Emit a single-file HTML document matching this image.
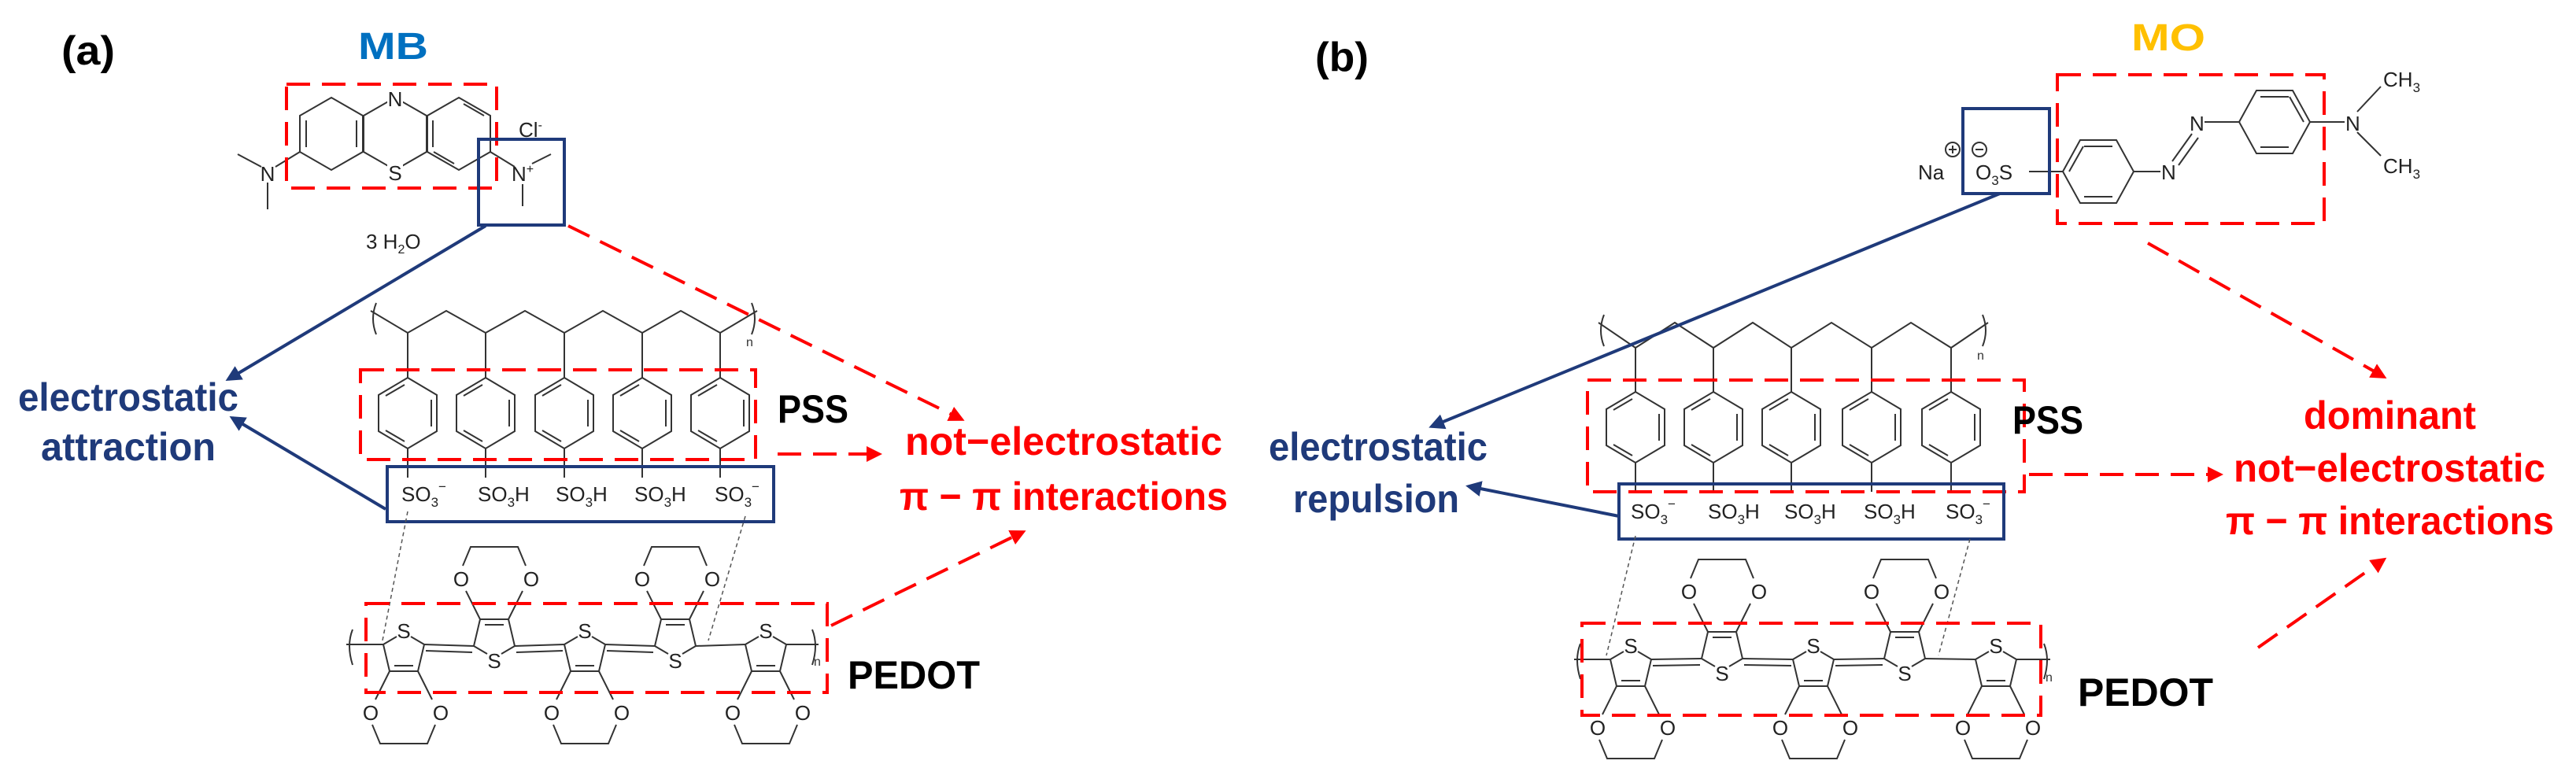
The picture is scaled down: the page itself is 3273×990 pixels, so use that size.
<!DOCTYPE html>
<html><head><meta charset="utf-8"><style>
html,body{margin:0;padding:0;background:#fff;}
svg{display:block;}
text{font-family:"Liberation Sans",sans-serif;}
.b{font-weight:bold;}
.at{font-size:26px;fill:#222;}
</style></head><body>
<svg width="3273" height="990" viewBox="0 0 3273 990" xmlns="http://www.w3.org/2000/svg">
<defs>
<marker id="an" viewBox="0 0 10 10" refX="8" refY="5" markerWidth="5" markerHeight="5" orient="auto"><path d="M0,0L10,5L0,10z" fill="#1f3a7a"/></marker>
<marker id="ar" viewBox="0 0 10 10" refX="8" refY="5" markerWidth="5" markerHeight="5" orient="auto"><path d="M0,0L10,5L0,10z" fill="#ff0000"/></marker>
<g id="pend" fill="none" stroke="#333" stroke-width="2">
<line x1="0" y1="-102" x2="0" y2="-45"/>
<polygon points="0,-45 37,-23 37,23 0,45 -37,23 -37,-23"/>
<line x1="30" y1="-17" x2="30" y2="17"/><line x1="-4" y1="-36" x2="-28" y2="-22"/><line x1="-4" y1="36" x2="-28" y2="22"/>
<line x1="0" y1="45" x2="0" y2="82"/>
</g>
<g id="thUp" fill="none" stroke="#333" stroke-width="2">
<path d="M-9,8L-26,18L-18,52L18,52L26,18L9,8"/>
<line x1="-12" y1="45" x2="12" y2="45"/>
<path d="M-18,52L-36,88M18,52L36,88M-40,120L-30,144L30,144L40,120"/>
</g>
<g id="thDn" fill="none" stroke="#333" stroke-width="2">
<path d="M-9,-8L-26,-18L-18,-52L18,-52L26,-18L9,-8"/>
<line x1="-12" y1="-45" x2="12" y2="-45"/>
<path d="M-18,-52L-36,-88M18,-52L36,-88M-40,-120L-30,-144L30,-144L40,-120"/>
</g>
</defs>

<!-- ===== Panel (a) ===== -->
<text x="78" y="82" class="b" font-size="52" textLength="68" lengthAdjust="spacingAndGlyphs">(a)</text>
<text x="455" y="75" class="b" font-size="48" fill="#0070c0" textLength="89" lengthAdjust="spacingAndGlyphs">MB</text>

<!-- MB molecule -->
<g fill="none" stroke="#333" stroke-width="2">
<polygon points="421,124 461,147 461,193 421,216 381,193 381,147"/>
<polygon points="502,124 542,147 542,193 502,216 462,193 462,147"/>
<polygon points="583,124 623,147 623,193 583,216 543,193 543,147"/>
<line x1="389" y1="153" x2="389" y2="187"/><line x1="453" y1="153" x2="453" y2="187"/><line x1="550" y1="153" x2="550" y2="187"/><line x1="589" y1="132" x2="615" y2="147"/><line x1="577" y1="208" x2="551" y2="193"/>
<line x1="381" y1="193" x2="350" y2="212"/><line x1="332" y1="212" x2="302" y2="196"/><line x1="340" y1="232" x2="340" y2="266"/>
<line x1="623" y1="193" x2="654" y2="212"/><line x1="676" y1="208" x2="700" y2="196"/><line x1="664" y1="234" x2="664" y2="262"/>
</g>
<rect x="492" y="112" width="20" height="24" fill="#fff"/><rect x="492" y="206" width="20" height="24" fill="#fff"/>
<text x="502" y="135" class="at" text-anchor="middle">N</text>
<text x="502" y="229" class="at" text-anchor="middle">S</text>
<text x="340" y="230" class="at" text-anchor="middle">N</text>
<text x="664" y="230" class="at" text-anchor="middle">N<tspan font-size="16" dy="-10">+</tspan></text>
<text x="659" y="174" class="at">Cl<tspan font-size="16" dy="-10">-</tspan></text>
<text x="465" y="316" class="at">3 H<tspan font-size="16" dy="6">2</tspan><tspan dy="-6">O</tspan></text>

<rect x="364" y="107" width="267" height="132" fill="none" stroke="#ff0000" stroke-width="4" stroke-dasharray="30,15"/>
<rect x="608" y="177" width="109" height="109" fill="none" stroke="#1f3a7a" stroke-width="4"/>

<!-- PSS a -->
<polyline points="471,395 518,423 567,395 617,423 667,395 717,423 766,395 816,423 865,395 915,423 962,395" fill="none" stroke="#333" stroke-width="2"/>
<path d="M478,385 Q470,405 478,425 M955,385 Q963,405 955,425" fill="none" stroke="#333" stroke-width="2"/>
<text x="948" y="440" font-size="16" fill="#333">n</text>
<use href="#pend" x="518" y="525"/><use href="#pend" x="617" y="525"/><use href="#pend" x="717" y="525"/><use href="#pend" x="816" y="525"/><use href="#pend" x="915" y="525"/>
<g class="at" font-size="28">
<text x="510" y="637">SO<tspan font-size="17" dy="7">3</tspan><tspan font-size="17" dy="-20">−</tspan></text>
<text x="607" y="637">SO<tspan font-size="17" dy="7">3</tspan><tspan dy="-7">H</tspan></text>
<text x="706" y="637">SO<tspan font-size="17" dy="7">3</tspan><tspan dy="-7">H</tspan></text>
<text x="806" y="637">SO<tspan font-size="17" dy="7">3</tspan><tspan dy="-7">H</tspan></text>
<text x="908" y="637">SO<tspan font-size="17" dy="7">3</tspan><tspan font-size="17" dy="-20">−</tspan></text>
</g>
<rect x="458" y="470" width="502" height="114" fill="none" stroke="#ff0000" stroke-width="4" stroke-dasharray="30,15"/>
<rect x="492" y="593" width="491" height="70" fill="none" stroke="#1f3a7a" stroke-width="4"/>
<text x="988" y="537" class="b" font-size="50" textLength="90" lengthAdjust="spacingAndGlyphs">PSS</text>

<!-- PEDOT a -->
<line x1="518" y1="650" x2="486" y2="814" stroke="#555" stroke-width="1.5" stroke-dasharray="5,4"/>
<line x1="947" y1="656" x2="900" y2="814" stroke="#555" stroke-width="1.5" stroke-dasharray="5,4"/>
<use href="#thUp" x="513" y="801"/><use href="#thDn" x="628" y="839"/><use href="#thUp" x="743" y="801"/><use href="#thDn" x="858" y="839"/><use href="#thUp" x="973" y="801"/>
<g fill="none" stroke="#333" stroke-width="2">
<path d="M539,819L602,821M541,827L600,829M654,821L717,819M656,829L715,827M769,819L832,821M771,827L830,829M884,821L947,819"/>
<path d="M487,819L440,819M999,819L1040,819M448,800Q440,820 448,845M1032,800Q1040,820 1032,845"/>
</g>
<text x="1034" y="846" font-size="16" fill="#333">n</text>
<g class="at" font-size="28" text-anchor="middle">
<text x="513" y="811">S</text><text x="628" y="849">S</text><text x="743" y="811">S</text><text x="858" y="849">S</text><text x="973" y="811">S</text>
<text x="471" y="915">O</text><text x="560" y="915">O</text><text x="701" y="915">O</text><text x="790" y="915">O</text><text x="931" y="915">O</text><text x="1020" y="915">O</text>
<text x="586" y="745">O</text><text x="675" y="745">O</text><text x="816" y="745">O</text><text x="905" y="745">O</text>
</g>
<rect x="465" y="767" width="586" height="113" fill="none" stroke="#ff0000" stroke-width="4" stroke-dasharray="30,15"/>
<text x="1077" y="875" class="b" font-size="50" textLength="168" lengthAdjust="spacingAndGlyphs">PEDOT</text>

<!-- arrows a -->
<line x1="617" y1="287" x2="290" y2="482" stroke="#1f3a7a" stroke-width="4" marker-end="url(#an)"/>
<line x1="490" y1="647" x2="295" y2="531" stroke="#1f3a7a" stroke-width="4" marker-end="url(#an)"/>
<line x1="722" y1="287" x2="1222" y2="533" stroke="#ff0000" stroke-width="4" stroke-dasharray="30,15" marker-end="url(#ar)"/>
<line x1="988" y1="577" x2="1117" y2="577" stroke="#ff0000" stroke-width="4" stroke-dasharray="30,15" marker-end="url(#ar)"/>
<line x1="1056" y1="795" x2="1300" y2="676" stroke="#ff0000" stroke-width="4" stroke-dasharray="30,15" marker-end="url(#ar)"/>

<text x="23" y="522" class="b" font-size="50" fill="#1f3a7a" textLength="280" lengthAdjust="spacingAndGlyphs">electrostatic</text>
<text x="52" y="585" class="b" font-size="50" fill="#1f3a7a" textLength="222" lengthAdjust="spacingAndGlyphs">attraction</text>
<text x="1150" y="578" class="b" font-size="50" fill="#ff0000" textLength="403" lengthAdjust="spacingAndGlyphs">not−electrostatic</text>
<text x="1143" y="648" class="b" font-size="50" fill="#ff0000" textLength="417" lengthAdjust="spacingAndGlyphs">π − π interactions</text>

<!-- ===== Panel (b) ===== -->
<text x="1671" y="90" class="b" font-size="52" textLength="68" lengthAdjust="spacingAndGlyphs">(b)</text>
<text x="2708" y="64" class="b" font-size="48" fill="#ffc000" textLength="94" lengthAdjust="spacingAndGlyphs">MO</text>

<!-- MO molecule -->
<g fill="none" stroke="#333" stroke-width="2">
<polygon points="2621,218 2643,178 2689,178 2711,218 2689,258 2643,258"/>
<line x1="2648" y1="186" x2="2684" y2="186"/><line x1="2648" y1="250" x2="2684" y2="250"/><line x1="2629" y1="218" x2="2647" y2="186"/>
<polygon points="2845,155 2867,115 2913,115 2935,155 2913,195 2867,195"/>
<line x1="2872" y1="123" x2="2908" y2="123"/><line x1="2872" y1="187" x2="2908" y2="187"/><line x1="2927" y1="155" x2="2909" y2="123"/>
<line x1="2578" y1="218" x2="2621" y2="218"/><line x1="2711" y1="218" x2="2745" y2="218"/>
<line x1="2760" y1="205" x2="2785" y2="170"/><line x1="2768" y1="210" x2="2793" y2="175"/>
<line x1="2801" y1="155" x2="2845" y2="155"/><line x1="2935" y1="155" x2="2979" y2="155"/>
<line x1="2995" y1="142" x2="3025" y2="110"/><line x1="2995" y1="168" x2="3025" y2="198"/>
<circle cx="2481" cy="190" r="9"/><circle cx="2515" cy="190" r="9"/>
<path d="M2476,190h10M2481,185v10M2510,190h10"/>
</g>
<g class="at">
<text x="2437" y="228">Na</text>
<text x="2510" y="228">O<tspan font-size="17" dy="7">3</tspan><tspan dy="-7">S</tspan></text>
<text x="2746" y="228">N</text>
<text x="2782" y="166">N</text>
<text x="2980" y="166">N</text>
<text x="3028" y="110">CH<tspan font-size="17" dy="7">3</tspan></text>
<text x="3028" y="220">CH<tspan font-size="17" dy="7">3</tspan></text>
</g>
<rect x="2614" y="95" width="339" height="189" fill="none" stroke="#ff0000" stroke-width="4" stroke-dasharray="30,15"/>
<rect x="2494" y="138" width="110" height="108" fill="none" stroke="#1f3a7a" stroke-width="4"/>

<!-- PSS b -->
<polyline points="2031,410 2078,442 2128,410 2177,442 2227,410 2276,442 2327,410 2378,442 2428,410 2479,442 2526,410" fill="none" stroke="#333" stroke-width="2"/>
<path d="M2038,400 Q2030,420 2038,440 M2519,400 Q2527,420 2519,440" fill="none" stroke="#333" stroke-width="2"/>
<text x="2512" y="457" font-size="16" fill="#333">n</text>
<use href="#pend" x="2078" y="543"/><use href="#pend" x="2177" y="543"/><use href="#pend" x="2276" y="543"/><use href="#pend" x="2378" y="543"/><use href="#pend" x="2479" y="543"/>
<g class="at" font-size="28">
<text x="2072" y="659">SO<tspan font-size="17" dy="7">3</tspan><tspan font-size="17" dy="-20">−</tspan></text>
<text x="2170" y="659">SO<tspan font-size="17" dy="7">3</tspan><tspan dy="-7">H</tspan></text>
<text x="2267" y="659">SO<tspan font-size="17" dy="7">3</tspan><tspan dy="-7">H</tspan></text>
<text x="2368" y="659">SO<tspan font-size="17" dy="7">3</tspan><tspan dy="-7">H</tspan></text>
<text x="2472" y="659">SO<tspan font-size="17" dy="7">3</tspan><tspan font-size="17" dy="-20">−</tspan></text>
</g>
<rect x="2017" y="483" width="555" height="142" fill="none" stroke="#ff0000" stroke-width="4" stroke-dasharray="30,15"/>
<rect x="2057" y="615" width="489" height="70" fill="none" stroke="#1f3a7a" stroke-width="4"/>
<text x="2557" y="551" class="b" font-size="50" textLength="90" lengthAdjust="spacingAndGlyphs">PSS</text>

<!-- PEDOT b -->
<line x1="2078" y1="681" x2="2041" y2="833" stroke="#555" stroke-width="1.5" stroke-dasharray="5,4"/>
<line x1="2503" y1="685" x2="2463" y2="833" stroke="#555" stroke-width="1.5" stroke-dasharray="5,4"/>
<use href="#thUp" x="2072" y="820"/><use href="#thDn" x="2188" y="855"/><use href="#thUp" x="2304" y="820"/><use href="#thDn" x="2420" y="855"/><use href="#thUp" x="2536" y="820"/>
<g fill="none" stroke="#333" stroke-width="2">
<path d="M2098,838L2162,837M2100,846L2160,845M2214,837L2278,838M2216,845L2276,846M2330,838L2394,837M2332,846L2392,845M2446,837L2510,838"/>
<path d="M2046,838L2000,838M2562,838L2605,838M2008,818Q2000,838 2008,863M2597,818Q2605,838 2597,863"/>
</g>
<text x="2599" y="866" font-size="16" fill="#333">n</text>
<g class="at" font-size="28" text-anchor="middle">
<text x="2072" y="830">S</text><text x="2188" y="865">S</text><text x="2304" y="830">S</text><text x="2420" y="865">S</text><text x="2536" y="830">S</text>
<text x="2030" y="934">O</text><text x="2119" y="934">O</text><text x="2262" y="934">O</text><text x="2351" y="934">O</text><text x="2494" y="934">O</text><text x="2583" y="934">O</text>
<text x="2146" y="761">O</text><text x="2235" y="761">O</text><text x="2378" y="761">O</text><text x="2467" y="761">O</text>
</g>
<rect x="2010" y="792" width="583" height="117" fill="none" stroke="#ff0000" stroke-width="4" stroke-dasharray="30,15"/>
<text x="2640" y="897" class="b" font-size="50" textLength="172" lengthAdjust="spacingAndGlyphs">PEDOT</text>

<!-- arrows b -->
<line x1="2541" y1="246" x2="1819" y2="542" stroke="#1f3a7a" stroke-width="4" marker-end="url(#an)"/>
<line x1="2057" y1="656" x2="1866" y2="618" stroke="#1f3a7a" stroke-width="4" marker-end="url(#an)"/>
<line x1="2729" y1="309" x2="3029" y2="479" stroke="#ff0000" stroke-width="4" stroke-dasharray="30,15" marker-end="url(#ar)"/>
<line x1="2578" y1="603" x2="2821" y2="603" stroke="#ff0000" stroke-width="4" stroke-dasharray="30,15" marker-end="url(#ar)"/>
<line x1="2869" y1="823" x2="3029" y2="711" stroke="#ff0000" stroke-width="4" stroke-dasharray="30,15" marker-end="url(#ar)"/>

<text x="1612" y="585" class="b" font-size="50" fill="#1f3a7a" textLength="278" lengthAdjust="spacingAndGlyphs">electrostatic</text>
<text x="1643" y="651" class="b" font-size="50" fill="#1f3a7a" textLength="211" lengthAdjust="spacingAndGlyphs">repulsion</text>
<text x="2927" y="545" class="b" font-size="50" fill="#ff0000" textLength="219" lengthAdjust="spacingAndGlyphs">dominant</text>
<text x="2838" y="612" class="b" font-size="50" fill="#ff0000" textLength="396" lengthAdjust="spacingAndGlyphs">not−electrostatic</text>
<text x="2828" y="679" class="b" font-size="50" fill="#ff0000" textLength="417" lengthAdjust="spacingAndGlyphs">π − π interactions</text>
</svg>
</body></html>
